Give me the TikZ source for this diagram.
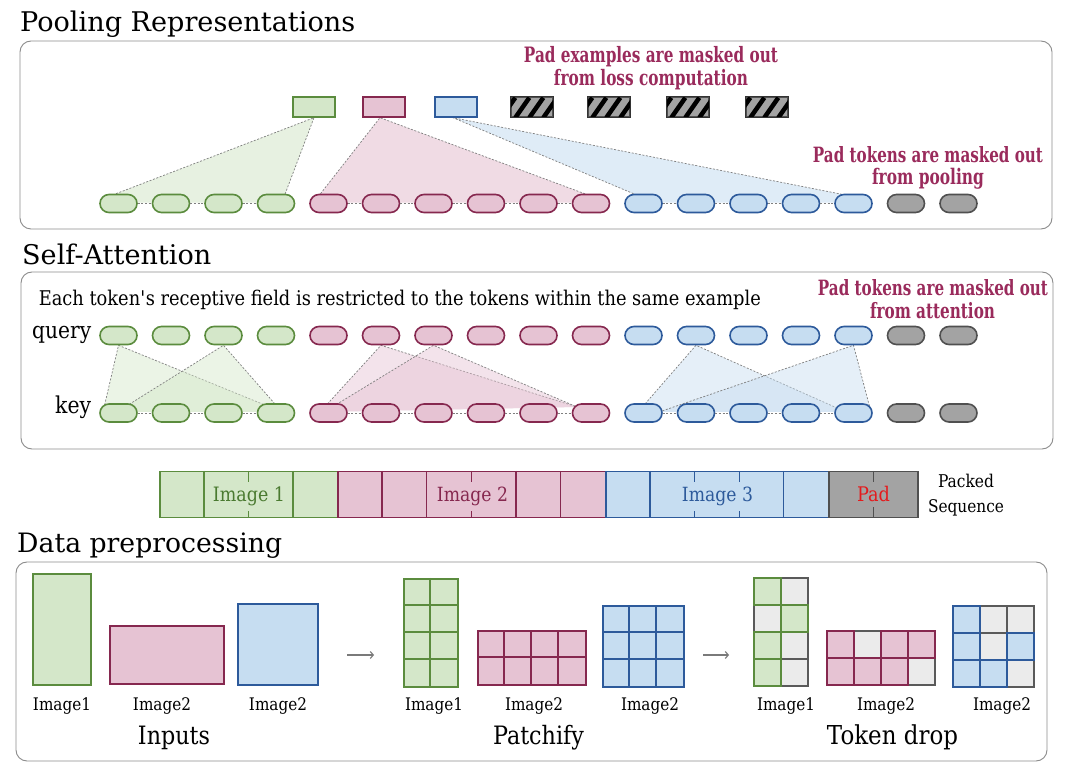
\documentclass[tikz,border=0pt]{standalone}
\usepackage{fontspec}
\setmainfont{DejaVu Serif}[FakeStretch=0.88]
\newfontfamily\titlefont{DejaVu Serif}
\newfontfamily\padfont[FakeStretch=0.72]{DejaVu Serif}
\usetikzlibrary{calc,arrows.meta}
\pgfdeclarelayer{back}
\pgfdeclarelayer{bg}
\pgfsetlayers{back,bg,main}
\definecolor{gfill}{HTML}{D4E7C9}
\definecolor{gline}{HTML}{5B8C3E}
\definecolor{gtext}{HTML}{4A7A30}
\definecolor{pfill}{HTML}{E6C3D3}
\definecolor{pline}{HTML}{86284F}
\definecolor{bfill}{HTML}{C6DDF1}
\definecolor{bline}{HTML}{2D5A9B}
\definecolor{kfill}{HTML}{A3A3A3}
\definecolor{kline}{HTML}{505050}
\definecolor{dfill}{HTML}{EBEBEB}
\definecolor{dline}{HTML}{5A5A5A}
\definecolor{padtxt}{HTML}{9A2B5C}
\definecolor{padred}{HTML}{E41A1C}
\definecolor{boxline}{HTML}{8C8C8C}
\definecolor{dashcol}{HTML}{7F7F7F}
\definecolor{arrcol}{HTML}{7A7A7A}
\newcommand\fw[2]{\resizebox{#1pt}{!}{#2}}
\begin{document}
\begin{tikzpicture}[x=1pt,y=-1pt,
  tok/.style={rectangle,rounded corners=9pt,minimum width=37pt,minimum height=18pt,inner sep=0pt,line width=1.6pt},
  gtok/.style={tok,fill=gfill,draw=gline},
  ptok/.style={tok,fill=pfill,draw=pline},
  btok/.style={tok,fill=bfill,draw=bline},
  ktok/.style={tok,fill=kfill,draw=kline},
  dl/.style={draw=dashcol,dash pattern=on 2pt off 1.6pt,line width=0.7pt},
  sect/.style={draw=boxline,line width=0.9pt,rounded corners=11pt},
  txt/.style={inner sep=0pt,anchor=base},
  txtl/.style={inner sep=0pt,anchor=base west},
  ttl/.style={txtl,font=\titlefont},
  padlbl/.style={txt,text=padtxt,font=\padfont\bfseries},
  rep/.style={rectangle,minimum width=42pt,minimum height=20pt,inner sep=0pt,line width=1.4pt},
  gtri/.style={fill=gfill,fill opacity=0.55},
  ptri/.style={fill=pfill,fill opacity=0.6},
  btri/.style={fill=bfill,fill opacity=0.55},
  seg/.style={rectangle,inner sep=0pt,minimum height=46pt,line width=1.3pt},
  seglbl/.style={txt,inner xsep=2pt,inner ysep=5pt},
  img/.style={rectangle,inner sep=0pt,line width=1.6pt},
  grd/.style={rectangle,inner sep=0pt,line width=1.6pt,anchor=north west},
  arr/.style={draw=arrcol,line width=1.1pt,-{Straight Barb[length=3pt,width=7pt]}}
]
\begin{pgfonlayer}{back}
\fill[white] (0,0) rectangle (1080,775);
\draw[sect] (20,41) rectangle (1052,229);
\draw[sect] (21,272) rectangle (1053,449);
\draw[sect] (16,562) rectangle (1047,761);
\end{pgfonlayer}
\useasboundingbox (0,0) rectangle (1080,775);
% ---------- titles ----------
\node[ttl] (t1) at (20,31.5) {\fw{335}{Pooling Representations}};
\node[ttl] (t2) at (22,265) {\fw{189}{Self-Attention}};
\node[ttl] (t3) at (17,553) {\fw{265}{Data preprocessing}};
% ---------- pooling ----------
\node[padlbl] (pe1) at (651,62.5) {\fw{254}{Pad examples are masked out}};
\node[padlbl] (pe2) at (651,86) {\fw{194}{from loss computation}};
\node[padlbl] (pt1) at (928,162.5) {\fw{230}{Pad tokens are masked out}};
\node[padlbl] (pt2) at (928,185) {\fw{112}{from pooling}};
\node[rep,fill=gfill,draw=gline] (r1) at (314,107) {};
\node[rep,fill=pfill,draw=pline] (r2) at (384,107) {};
\node[rep,fill=bfill,draw=bline] (r3) at (456,107) {};
\foreach \n/\x in {4/532,5/609,6/688,7/767}{
  \node[rep,fill=kfill,draw=kline] (r\n) at (\x,107) {};
  \begin{scope}
    \clip (r\n.south west) rectangle (r\n.north east);
    \foreach \s in {-9,5,19,33}
      \draw[line width=4.5pt,black] ($(r\n.south west)+(\s,0)$) -- ++(14,-20);
  \end{scope}
  \draw[draw=black!80,line width=1.2pt] (r\n.south west) rectangle (r\n.north east);
}
% tokens
\foreach \i in {1,...,4}{\pgfmathsetmacro\xx{118.5+52.5*(\i-1)}
  \node[gtok] (p\i) at (\xx,203.5) {}; \node[gtok] (q\i) at (\xx,335.5) {}; \node[gtok] (k\i) at (\xx,413) {};}
\foreach \i in {5,...,10}{\pgfmathsetmacro\xx{118.5+52.5*(\i-1)}
  \node[ptok] (p\i) at (\xx,203.5) {}; \node[ptok] (q\i) at (\xx,335.5) {}; \node[ptok] (k\i) at (\xx,413) {};}
\foreach \i in {11,...,15}{\pgfmathsetmacro\xx{118.5+52.5*(\i-1)}
  \node[btok] (p\i) at (\xx,203.5) {}; \node[btok] (q\i) at (\xx,335.5) {}; \node[btok] (k\i) at (\xx,413) {};}
\foreach \i in {16,17}{\pgfmathsetmacro\xx{118.5+52.5*(\i-1)}
  \node[ktok] (p\i) at (\xx,203.5) {}; \node[ktok] (q\i) at (\xx,335.5) {}; \node[ktok] (k\i) at (\xx,413) {};}
\foreach \i/\j in {1/2,2/3,3/4,5/6,6/7,7/8,8/9,9/10,11/12,12/13,13/14,14/15}{
  \draw[dl] (p\i.east) -- (p\j.west);
  \draw[dl] (k\i.east) -- (k\j.west);
}
\begin{pgfonlayer}{bg}
% pooling: apex, left top point, right top point; fill reaches the token mid line
\foreach \r/\ao/\lt/\lo/\rt/\ro/\cl/\op in {1/0/1/-2.5/4/9/gfill/0.55,2/-4/5/-8/10/-5/pfill/0.6,3/-3/11/-10/15/-12/bfill/0.55}{
  \coordinate (ya) at ($(r\r.south)+(\ao,0)$);
  \coordinate (yl) at ($(p\lt.north)+(\lo,0)$);
  \coordinate (yr) at ($(p\rt.north)+(\ro,0.5)$);
  \fill[fill=\cl,fill opacity=\op] (ya) -- (yl) -- ($(yl)+(0,9)$) -- ($(yr)+(0,8.5)$) -- (yr) -- cycle;
  \draw[dl] (yl) -- (ya) -- (yr);
}
% attention triangles
\foreach \q/\ka/\ax/\ay/\kb/\bx/\by/\st in {1/1/-15.5/-1/4/6/-1/gfill,3/1/-1.5/-1/4/6/-1/gfill,6/5/-8.5/-1/10/-14/-6/pfill,7/5/-4.5/-1/10/-14/-6/pfill,12/11/-5.5/-1/15/-7.5/-1/bfill,15/11/15.5/-1/15/17.5/-1/bfill}{
  \coordinate (xa) at (q\q.south);
  \coordinate (xl) at ($(k\ka.center)+(\ax,\ay)$);
  \coordinate (xr) at ($(k\kb.center)+(\bx,\by)$);
  \fill[fill=\st,fill opacity=0.45] (xa) -- (xl) -- (xr) -- cycle;
  \draw[dl] (xl) -- (xa) -- (xr);
}
\end{pgfonlayer}
% ---------- self-attention texts ----------
\node[txtl] (each) at (38.6,306) {\fw{722}{Each token\textquotesingle s receptive field is restricted to the tokens within the same example}};
\node[padlbl] (pa1) at (933,295.5) {\fw{230}{Pad tokens are masked out}};
\node[padlbl] (pa2) at (932.5,318.5) {\fw{125}{from attention}};
\node[txtl] (query) at (32,339) {\fw{59}{query}};
\node[txtl] (key) at (55,414) {\fw{36}{key}};
% ---------- packed sequence ----------
\node[seg,fill=gfill,draw=gline,minimum width=178pt] (s1) at (249,494.5) {};
\node[seg,fill=pfill,draw=pline,minimum width=268pt] (s2) at (472,494.5) {};
\node[seg,fill=bfill,draw=bline,minimum width=223pt] (s3) at (717.5,494.5) {};
\node[seg,fill=kfill,draw=kline,minimum width=89pt] (s4) at (873.5,494.5) {};
\foreach \c in {1,2,3} \draw[gline,line width=1.3pt] ($(s1.north west)+(44.5*\c,0)$) -- ($(s1.south west)+(44.5*\c,0)$);
\foreach \c in {1,...,5} \draw[pline,line width=1.3pt] ($(s2.north west)+(44.67*\c,0)$) -- ($(s2.south west)+(44.67*\c,0)$);
\foreach \c in {1,...,4} \draw[bline,line width=1.3pt] ($(s3.north west)+(44.6*\c,0)$) -- ($(s3.south west)+(44.6*\c,0)$);
\draw[kline,line width=1.3pt] (s4.north) -- (s4.south);
\node[seglbl,fill=gfill,text=gtext] (l1) at (249,502) {\fw{72}{Image 1}};
\node[seglbl,fill=pfill,text=pline] (l2) at (472.5,502) {\fw{71}{Image 2}};
\node[seglbl,fill=bfill,text=bline] (l3) at (717.5,502) {\fw{71}{Image 3}};
\node[seglbl,fill=kfill,text=padred] (l4) at (873.5,502) {\fw{33}{Pad}};
\node[txt] (pk1) at (966,488) {\fw{56}{Packed}};
\node[txt] (pk2) at (966,513) {\fw{76}{Sequence}};
% ---------- data preprocessing ----------
\node[img,fill=gfill,draw=gline,minimum width=58pt,minimum height=111pt] (in1) at (62,629.5) {};
\node[img,fill=pfill,draw=pline,minimum width=114pt,minimum height=58pt] (in2) at (167,655) {};
\node[img,fill=bfill,draw=bline,minimum width=80pt,minimum height=81pt] (in3) at (278,644.5) {};
\node[txt] (il1) at (62,710) {\fw{58}{Image1}};
\node[txt] (il2) at (162,710) {\fw{58}{Image2}};
\node[txt] (il3) at (278,710) {\fw{58}{Image2}};
\node[txt] (inl) at (174,744) {\fw{72}{Inputs}};
\coordinate (a1s) at (347,655); \coordinate (a1e) at (374,655);
\draw[arr] (a1s) -- (a1e);
\coordinate (a2s) at (703,655); \coordinate (a2e) at (729,655);
\draw[arr] (a2s) -- (a2e);
% patchify
\node[grd,fill=gfill,draw=gline,minimum width=54pt,minimum height=108pt] (pg1) at (403,578) {};
\draw[gline,line width=1.6pt] ($(pg1.north west)+(27,0)$) -- ++(0,108);
\foreach \r in {1,2,3} \draw[gline,line width=1.6pt] ($(pg1.north west)+(0,27*\r)$) -- ++(54,0);
\node[grd,fill=pfill,draw=pline,minimum width=108pt,minimum height=54pt] (pg2) at (477,630) {};
\foreach \c in {1,2,3} \draw[pline,line width=1.6pt] ($(pg2.north west)+(27*\c,0)$) -- ++(0,54);
\draw[pline,line width=1.6pt] ($(pg2.north west)+(0,27)$) -- ++(108,0);
\node[grd,fill=bfill,draw=bline,minimum width=81pt,minimum height=81pt] (pg3) at (602,605) {};
\foreach \c in {1,2} {\draw[bline,line width=1.6pt] ($(pg3.north west)+(27*\c,0)$) -- ++(0,81);
  \draw[bline,line width=1.6pt] ($(pg3.north west)+(0,27*\c)$) -- ++(81,0);}
\node[txt] (pl1) at (434,710) {\fw{58}{Image1}};
\node[txt] (pl2) at (534,710) {\fw{58}{Image2}};
\node[txt] (pl3) at (650,710) {\fw{58}{Image2}};
\node[txt] (pfl) at (538.5,744) {\fw{91}{Patchify}};
% token drop
\coordinate (tg) at (754,578);
\coordinate (tp) at (827,631);
\coordinate (tb) at (953,606);
\foreach \c/\r in {1/0,0/1,1/2,1/3}
  \draw[fill=dfill,draw=dline,line width=1.6pt] ($(tg)+(27*\c,27*\r)$) rectangle ++(27,27);
\foreach \c/\r in {0/0,1/1,0/2,0/3}
  \draw[fill=gfill,draw=gline,line width=1.6pt] ($(tg)+(27*\c,27*\r)$) rectangle ++(27,27);
\foreach \c/\r in {1/0,3/1}
  \draw[fill=dfill,draw=dline,line width=1.6pt] ($(tp)+(27*\c,27*\r)$) rectangle ++(27,27);
\foreach \c/\r in {0/0,2/0,3/0,0/1,1/1,2/1}
  \draw[fill=pfill,draw=pline,line width=1.6pt] ($(tp)+(27*\c,27*\r)$) rectangle ++(27,27);
\foreach \c/\r in {1/0,2/0,1/1,2/2}
  \draw[fill=dfill,draw=dline,line width=1.6pt] ($(tb)+(27*\c,27*\r)$) rectangle ++(27,27);
\foreach \c/\r in {0/0,0/1,2/1,0/2,1/2}
  \draw[fill=bfill,draw=bline,line width=1.6pt] ($(tb)+(27*\c,27*\r)$) rectangle ++(27,27);
\node[txt] (dl1) at (786,710) {\fw{58}{Image1}};
\node[txt] (dl2) at (886,710) {\fw{58}{Image2}};
\node[txt] (dl3) at (1002,710) {\fw{58}{Image2}};
\node[txt] (dtl) at (892.5,744) {\fw{131}{Token drop}};
\end{tikzpicture}
\end{document}
